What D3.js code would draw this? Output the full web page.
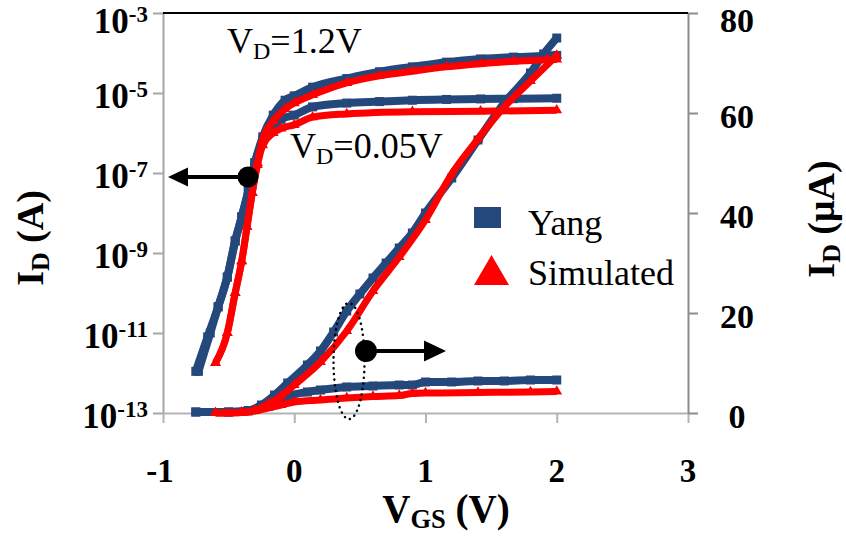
<!DOCTYPE html>
<html>
<head>
<meta charset="utf-8">
<script src="https://cdn.jsdelivr.net/npm/d3@7"></script>
</head>
<body style="margin:0">
<script>
// tick values
const vgsTicks = [-1, 0, 1, 2, 3];
const logTicks = [1e-3, 1e-5, 1e-7, 1e-9, 1e-11, 1e-13];
const linTicks = [0, 20, 40, 60, 80];

// log axis (A), [VGS, ID]
const yangLogHigh = [[-0.73, 1.1e-12], [-0.64, 1e-11], [-0.58, 4.5e-11], [-0.51, 2.5e-10], [-0.45, 2e-9],
  [-0.40, 8e-9], [-0.35, 3.5e-8], [-0.30, 1.8e-7], [-0.24, 8e-7], [-0.16, 2.8e-6], [-0.07, 6.6e-6],
  [0.0, 8.5e-6], [0.14, 1.4e-5], [0.40, 2.3e-5], [0.65, 3.4e-5], [0.90, 4.5e-5], [1.16, 5.9e-5],
  [1.42, 7.1e-5], [1.67, 7.9e-5], [1.93, 8.5e-5], [2.0, 8.7e-5]];
const yangLogLow = [[-0.75, 1.1e-12], [-0.66, 8e-12], [-0.58, 4.5e-11], [-0.51, 2.5e-10], [-0.45, 2e-9],
  [-0.40, 8e-9], [-0.35, 3.5e-8], [-0.30, 1.8e-7], [-0.24, 6.3e-7], [-0.16, 1.4e-6], [-0.10, 2.2e-6],
  [0.0, 2.8e-6], [0.14, 4.5e-6], [0.40, 5.6e-6], [0.65, 6.1e-6], [0.90, 6.6e-6], [1.16, 6.9e-6],
  [1.42, 7.1e-6], [1.67, 7.2e-6], [2.0, 7.4e-6]];
const simLogHigh = [[-0.60, 1.8e-12], [-0.51, 1e-11], [-0.45, 1e-10], [-0.40, 6.3e-10], [-0.36, 4.5e-9],
  [-0.32, 3.2e-8], [-0.28, 1.8e-7], [-0.24, 7e-7], [-0.16, 2e-6], [-0.07, 4e-6], [0.0, 5.6e-6],
  [0.14, 9e-6], [0.40, 1.8e-5], [0.65, 2.7e-5], [0.90, 3.5e-5], [1.16, 4.5e-5], [1.42, 5.4e-5],
  [1.67, 6.2e-5], [1.93, 6.8e-5], [2.0, 6.9e-5]];
const simLogLow = [[-0.60, 1.8e-12], [-0.51, 1e-11], [-0.45, 1e-10], [-0.40, 6.3e-10], [-0.36, 4.5e-9],
  [-0.32, 3.2e-8], [-0.28, 1.6e-7], [-0.24, 5e-7], [-0.16, 1e-6], [-0.10, 1.3e-6], [0.0, 1.6e-6],
  [0.14, 2.5e-6], [0.40, 3.0e-6], [0.90, 3.4e-6], [1.42, 3.5e-6], [2.0, 3.7e-6]];

// linear axis (uA), [VGS, ID]
const yangLinHigh = [[-0.75, 0.2], [-0.5, 0.2], [-0.35, 0.5], [-0.25, 1.6], [-0.15, 3.6], [-0.05, 6.0],
  [0.1, 9.6], [0.2, 12.4], [0.3, 16.2], [0.4, 20.4], [0.5, 23.8], [0.6, 27.0], [0.7, 30.0], [0.8, 33.0],
  [0.9, 36.0], [1.0, 40.0], [1.2, 47.0], [1.4, 54.6], [1.6, 62.0], [1.8, 68.0], [1.9, 71.8], [2.0, 75.0]];
const yangLinLow = [[-0.75, 0.2], [-0.5, 0.2], [-0.35, 0.4], [-0.25, 1.2], [-0.15, 2.4], [-0.05, 3.4],
  [0.1, 4.2], [0.2, 4.6], [0.4, 5.2], [0.6, 5.4], [0.8, 5.6], [0.9, 5.6], [1.0, 6.2], [1.2, 6.2],
  [1.4, 6.4], [1.6, 6.4], [1.8, 6.6], [2.0, 6.6]];
const simLinHigh = [[-0.6, 0], [-0.4, 0.1], [-0.3, 0.5], [-0.2, 1.8], [-0.1, 3.4], [0.0, 5.6], [0.2, 10.2],
  [0.4, 16.4], [0.6, 24.4], [0.8, 31.2], [1.0, 38.6], [1.2, 47.8], [1.4, 54.8], [1.6, 61.2],
  [1.8, 66.4], [2.0, 71.5]];
const simLinLow = [[-0.6, 0], [-0.4, 0.1], [-0.3, 0.4], [-0.2, 1.0], [-0.1, 1.6], [0.0, 2.2], [0.2, 2.6],
  [0.4, 3.0], [0.6, 3.3], [0.8, 3.5], [0.9, 3.9], [1.0, 4.0], [1.4, 4.1], [1.8, 4.2], [2.0, 4.3]];

const blue = "#24487c";
const red = "#ff0000";

let svg = d3.select("body")
  .append("svg")
  .attr("width", 846)
  .attr("height", 536)
  .style("display", "block");

let x = d3.scaleLinear().domain([-1, 3]).range([163, 688]);
let yLog = d3.scaleLog().domain([1e-13, 1e-3]).range([413, 13]);
let yLin = d3.scaleLinear().domain([0, 80]).range([413, 13]);

// text helper
function addText(size, bold) {
  let t = svg.append("text")
    .attr("font-size", size)
    .style("font-family", "'Liberation Serif'");
  if (bold) t.attr("font-weight", "bold");
  return t;
}

// axes
function styleAxis(g, color) {
  g.selectAll("path, line").attr("stroke", color).attr("stroke-width", 2);
}
svg.append("g")
  .attr("transform", `translate(${x(-1)},0)`)
  .call(d3.axisLeft(yLog).tickValues(logTicks).tickFormat("").tickSize(10).tickSizeOuter(0))
  .call(g => styleAxis(g, "#a6a6a6"));
svg.append("g")
  .attr("transform", `translate(0,${yLin(0)})`)
  .call(d3.axisBottom(x).tickValues(vgsTicks).tickFormat("").tickSize(10).tickSizeOuter(0))
  .call(g => styleAxis(g, "#b4b4b4"));
svg.append("g")
  .attr("transform", `translate(${x(3)},0)`)
  .call(d3.axisRight(yLin).tickValues(linTicks).tickFormat("").tickSize(10).tickSizeOuter(0))
  .call(g => styleAxis(g, "#8c8c8c"));
svg.append("line")
  .attr("x1", x(-1)).attr("x2", x(3))
  .attr("y1", yLin(80)).attr("y2", yLin(80))
  .attr("stroke", "#000").attr("stroke-width", 2);

// tick labels
logTicks.forEach(t => {
  let txt = addText(35, true)
    .attr("x", 148)
    .attr("y", yLog(t) + (t === 1e-3 ? 20 : 15))
    .attr("text-anchor", "end");
  txt.append("tspan").text("10");
  txt.append("tspan").attr("dy", -11).attr("font-size", 23).text(String(Math.round(Math.log10(t))));
});
vgsTicks.forEach(t => {
  addText(33, true)
    .attr("x", x(t) - (t < 0 ? 3 : 0))
    .attr("y", 482)
    .attr("text-anchor", "middle")
    .text(t);
});
linTicks.forEach(t => {
  addText(34, true)
    .attr("x", 737)
    .attr("y", yLin(t) + (t === 80 ? 19 : 15))
    .attr("text-anchor", "middle")
    .text(t);
});

// axis titles
function subLabel(main, sub, rest, size) {
  let txt = addText(size, true).attr("text-anchor", "middle");
  txt.append("tspan").text(main);
  txt.append("tspan").attr("dy", 6).attr("font-size", size * 0.68).text(sub);
  txt.append("tspan").attr("dy", -6).text(rest);
  return txt;
}
subLabel("V", "GS", " (V)", 39).attr("x", 446).attr("y", 522);
subLabel("I", "D", " (A)", 38).attr("transform", "translate(43,238) rotate(-90)");
subLabel("I", "D", " (\u03bcA)", 38).attr("transform", "translate(834,219) rotate(-90)");

// series
function drawSeries(data, yScale, color, lineW, symbol, symSize) {
  let line = d3.line()
    .x(d => x(d[0]))
    .y(d => yScale(d[1]))
    .curve(d3.curveMonotoneX);
  svg.append("path")
    .datum(data)
    .attr("d", line)
    .attr("fill", "none")
    .attr("stroke", color)
    .attr("stroke-width", lineW)
    .attr("stroke-linejoin", "round");
  svg.append("g")
    .selectAll("path")
    .data(data)
    .join("path")
    .attr("transform", d => `translate(${x(d[0])},${yScale(d[1])})`)
    .attr("d", d3.symbol(symbol, symSize))
    .attr("fill", color);
}
drawSeries(yangLogHigh, yLog, blue, 8, d3.symbolSquare, 81);
drawSeries(yangLogLow, yLog, blue, 8, d3.symbolSquare, 81);
drawSeries(yangLinHigh, yLin, blue, 8, d3.symbolSquare, 81);
drawSeries(yangLinLow, yLin, blue, 8, d3.symbolSquare, 81);
drawSeries(simLogHigh, yLog, red, 7, d3.symbolTriangle, 50);
drawSeries(simLogLow, yLog, red, 7, d3.symbolTriangle, 50);
drawSeries(simLinHigh, yLin, red, 7, d3.symbolTriangle, 50);
drawSeries(simLinLow, yLin, red, 7, d3.symbolTriangle, 50);

// annotations
function vdLabel(px, py, rest) {
  let txt = addText(36, false).attr("x", px).attr("y", py);
  txt.append("tspan").text("V");
  txt.append("tspan").attr("dy", 6).attr("font-size", 24).text("D");
  txt.append("tspan").attr("dy", -6).text(rest);
}
vdLabel(227, 53, "=1.2V");
vdLabel(290, 158, "=0.05V");

// legend
svg.append("rect")
  .attr("x", 474).attr("y", 207).attr("width", 27).attr("height", 21)
  .attr("fill", blue);
addText(36, false).attr("x", 528).attr("y", 235).text("Yang");
svg.append("path")
  .attr("d", "M474,285L509,285L491.5,255Z")
  .attr("fill", red);
addText(36, false).attr("x", 528).attr("y", 285).text("Simulated");

// arrows
svg.append("line").attr("x1", 248).attr("y1", 177).attr("x2", 186).attr("y2", 177)
  .attr("stroke", "#000").attr("stroke-width", 4);
svg.append("path").attr("d", "M168,177L188,167.5L188,186.5Z").attr("fill", "#000");
svg.append("circle").attr("cx", 248).attr("cy", 177).attr("r", 10.5).attr("fill", "#000");

svg.append("line").attr("x1", 366).attr("y1", 351).attr("x2", 426).attr("y2", 351)
  .attr("stroke", "#000").attr("stroke-width", 4);
svg.append("path").attr("d", "M446,351L424,340.5L424,361.5Z").attr("fill", "#000");
svg.append("circle").attr("cx", 366).attr("cy", 351).attr("r", 11).attr("fill", "#000");

svg.append("ellipse")
  .attr("cx", 349).attr("cy", 361).attr("rx", 15.5).attr("ry", 58)
  .attr("fill", "none")
  .attr("stroke", "#000")
  .attr("stroke-width", 2.5)
  .attr("stroke-linecap", "round")
  .attr("stroke-dasharray", "0.1 5.5");
</script>
</body>
</html>
